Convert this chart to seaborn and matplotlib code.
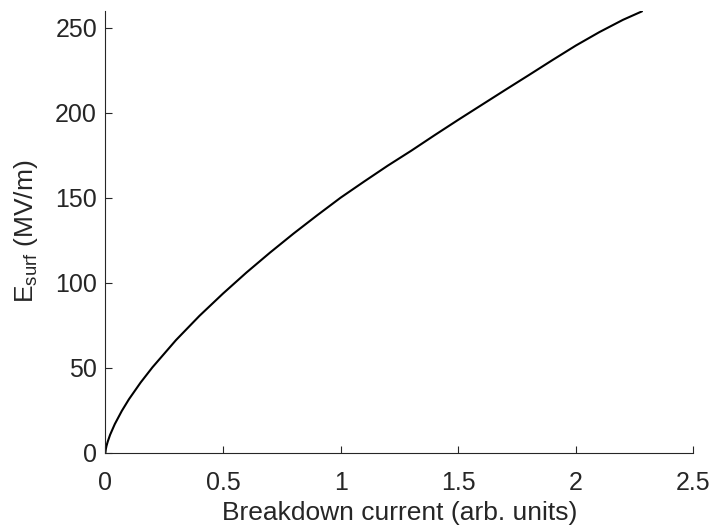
import matplotlib
matplotlib.use("Agg")
import matplotlib.pyplot as plt
import seaborn as sns
import pandas as pd

# Breakdown current (arb. units) and surface field (MV/m)
current = [0.0, 0.002, 0.005, 0.01, 0.02, 0.04, 0.07, 0.10, 0.15, 0.20,
           0.30, 0.40, 0.50, 0.60, 0.70, 0.80, 0.90, 1.00, 1.10, 1.20,
           1.30, 1.40, 1.50, 1.60, 1.70, 1.80, 1.90, 2.00, 2.10, 2.20, 2.281]
e_surf = [0.0, 2.2, 4.1, 6.5, 10.5, 16.8, 24.6, 31.4, 41.3, 50.2,
          66.2, 80.5, 93.6, 106.0, 117.7, 128.9, 139.6, 150.0, 159.5, 168.8,
          177.6, 186.8, 195.8, 204.6, 213.4, 222.1, 230.9, 239.5, 247.4, 254.6,
          259.6]

x_ticks = [0, 0.5, 1, 1.5, 2, 2.5]
x_tick_labels = ["0", "0.5", "1", "1.5", "2", "2.5"]
y_ticks = [0, 50, 100, 150, 200, 250]

sns.set_theme(style="white")
plt.rcParams["font.family"] = ["Liberation Sans", "DejaVu Sans"]
plt.rcParams["mathtext.fontset"] = "custom"
plt.rcParams["mathtext.rm"] = "Liberation Sans"
plt.rcParams["mathtext.it"] = "Liberation Sans:italic"

text_color = "#262626"

fig = plt.figure(figsize=(7.12, 5.26), dpi=100)
ax = fig.add_axes([0.148, 0.1394, 0.826, 0.8403])

df = pd.DataFrame({"current": current, "e_surf": e_surf})
sns.lineplot(data=df, x="current", y="e_surf", ax=ax, color="black",
             linewidth=1.5, sort=False, estimator=None)

ax.set_xlim(0, 2.5)
ax.set_ylim(0, 260)
ax.set_xticks(x_ticks)
ax.set_xticklabels(x_tick_labels)
ax.set_yticks(y_ticks)

for side in ("top", "right"):
    ax.spines[side].set_visible(False)
for side in ("left", "bottom"):
    ax.spines[side].set_color(text_color)
    ax.spines[side].set_linewidth(0.8)

ax.tick_params(axis="both", direction="in", length=5, width=0.8,
               colors=text_color, labelsize=18, bottom=True, left=True)
ax.tick_params(axis="x", pad=13)
ax.tick_params(axis="y", pad=6)

ax.set_xlabel("Breakdown current (arb. units)", fontsize=19,
              color=text_color, labelpad=4.5)
ax.set_ylabel(r"E$_{\mathrm{surf}}$ (MV/m)", fontsize=19,
              color=text_color, labelpad=11)

fig.savefig("out.png", dpi=100)
